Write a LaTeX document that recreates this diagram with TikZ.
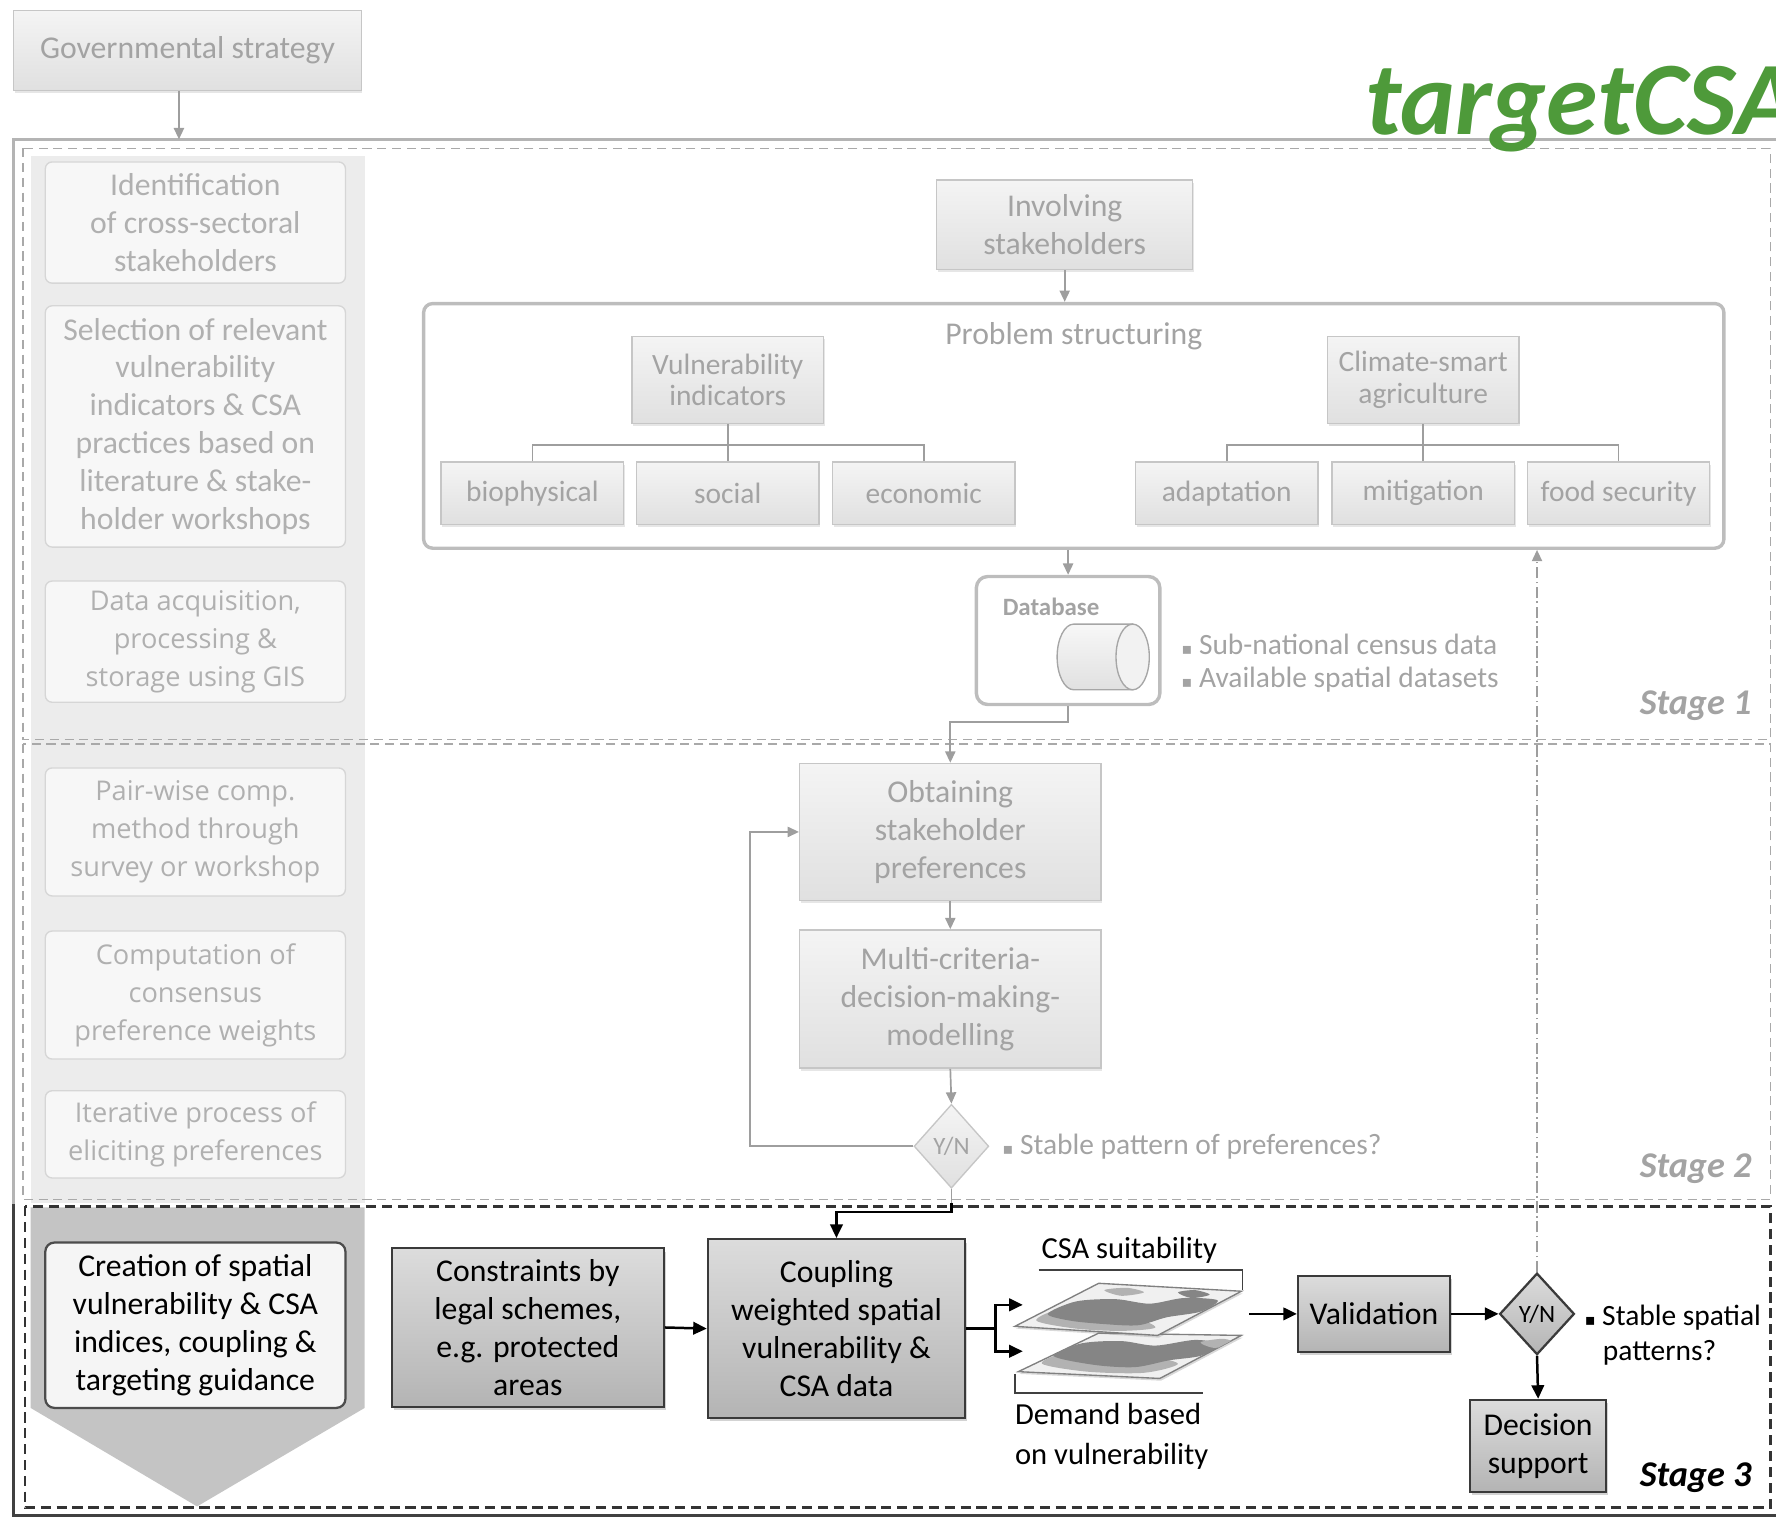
\documentclass[tikz,border=0pt]{standalone}
\usepackage{fontspec}
\setmainfont{Carlito}
\newfontfamily\osans{Open Sans}
\newfontfamily\djv{DejaVu Sans}
\usetikzlibrary{arrows.meta,shapes.geometric,shadows,calc}
\newcommand\fsz[2]{\fontsize{#1}{#2}\selectfont}
\definecolor{gtop}{HTML}{F4F4F4}
\definecolor{gbot}{HTML}{E0E0E0}
\definecolor{bordg}{HTML}{C6C6C6}
\definecolor{txtg}{HTML}{A3A3A3}
\definecolor{lfill}{HTML}{F7F7F7}
\definecolor{lbord}{HTML}{D6D6D6}
\definecolor{ltxt}{HTML}{B0B0B0}
\definecolor{colL}{HTML}{ECECEC}
\definecolor{colD}{HTML}{C4C4C4}
\definecolor{dtop}{HTML}{DCDCDC}
\definecolor{dbot}{HTML}{B4B4B4}
\definecolor{dbord}{HTML}{3A3A3A}
\definecolor{arrg}{HTML}{9E9E9E}
\definecolor{dashg}{HTML}{A9A9A9}
\definecolor{psb}{HTML}{BDBDBD}
\definecolor{frameg}{HTML}{B4B4B4}
\definecolor{tgreen}{HTML}{4E9A3A}
\tikzset{
  gbox/.style={draw=bordg, line width=1.2pt, top color=gtop, bottom color=gbot, text=txtg,
    align=center, inner sep=0pt, font=\fsz{28}{33.5},
    drop shadow={opacity=0.2, shadow xshift=1pt, shadow yshift=-2.5pt}},
  ibox/.style={gbox, font=\fsz{26}{28}},
  lbox/.style={draw=lbord, line width=1.2pt, fill=lfill, rounded corners=6pt, text=ltxt,
    align=center, inner sep=0pt, minimum width=265pt, font=\fsz{28}{33.5}},
  obox/.style={lbox, font=\osans\fsz{24}{33.5}},
  dbox/.style={draw=dbord, line width=2pt, top color=dtop, bottom color=dbot, text=black,
    align=center, inner sep=0pt, font=\fsz{28}{33.5},
    drop shadow={opacity=0.35, shadow xshift=2pt, shadow yshift=-3pt}},
  garr/.style={draw=arrg, line width=1.5pt, -{Triangle[length=10pt,width=9pt]}},
  gline/.style={draw=arrg, line width=1.5pt},
  barr/.style={draw=black, line width=2.2pt, -{Triangle[length=12pt,width=11pt]}},
  bline/.style={draw=black, line width=2.2pt},
  gdash/.style={draw=dashg, line width=1.5pt, dash pattern=on 8pt off 5pt},
  note/.style={inner sep=0pt, anchor=west, text=txtg, font=\fsz{26}{30}},
  stagelbl/.style={inner sep=0pt, font=\bfseries\itshape\fsz{32}{32}},
  mapl/.style={fill=white!94!black, draw=black!50, line width=1.2pt,
    drop shadow={opacity=0.3, shadow xshift=1pt, shadow yshift=-2pt}},
  blob/.style={fill=black!48},
  blobl/.style={fill=black!30},
}
\begin{document}
\begin{tikzpicture}[x=1pt,y=-1pt]
\useasboundingbox (0,0) rectangle (1568,1340.2);
% left process column
\fill[colL] (27,138) rectangle (322,1062);
\fill[colD] (27,1066) -- (322,1066) -- (322,1243) -- (174,1330) -- (27,1243) -- cycle;
% outer frame
\draw[line width=3pt, draw=frameg] (12,1063) -- (12,123) -- (1580,123);
\draw[line width=2.5pt, draw=black!75] (12,1063) -- (12,1338) -- (1580,1338);
% stage frames
\draw[gdash] (20,131) rectangle (1563,653);
\draw[gdash] (20,657) rectangle (1563,1059);
\draw[draw=black!80, line width=2.5pt, dash pattern=on 9pt off 5pt] (22,1065) rectangle (1563,1331);

% title
\node[anchor=base west, inner sep=0pt, text=tgreen, font=\bfseries\itshape\fsz{92}{92}] (title) at (1205,119) {targetCSA};

% governmental strategy
\node[gbox, minimum width=307pt, minimum height=71pt] (gov) at (165.5,44.5) {Governmental strategy};
\coordinate (ft) at (158,123);
\draw[garr] (gov.south -| ft) -- (ft);

% left column boxes
\node[lbox, minimum height=107pt] (l1) at (172.5,196.5) {Identification\\of cross-sectoral\\stakeholders};
\node[lbox, minimum height=213pt] (l2) at (172.5,376.5) {Selection of relevant\\vulnerability\\indicators \& CSA\\practices based on\\literature \& stake-\\holder workshops};
\node[obox, minimum height=107pt] (l3) at (172.5,566.5) {Data acquisition,\\processing \&\\storage using GIS};
\node[obox, minimum height=113pt] (l4) at (172.5,734.5) {Pair-wise comp.\\method through\\survey or workshop};
\node[obox, minimum height=113pt] (l5) at (172.5,878.5) {Computation of\\consensus\\preference weights};
\node[obox, minimum height=77pt] (l6) at (172.5,1001.5) {Iterative process of\\eliciting preferences};
\node[lbox, draw=black!70, line width=2pt, rounded corners=8pt, fill=white!96!black, text=black, minimum height=146pt] (l7) at (172.5,1170) {Creation of spatial\\vulnerability \& CSA\\indices, coupling \&\\targeting guidance};

% stage 1
\node[gbox, minimum width=226pt, minimum height=79pt] (inv) at (940,198.5) {Involving\\stakeholders};
\node[draw=psb, line width=3pt, rounded corners=8pt, minimum width=1148pt, minimum height=216pt, inner sep=0pt] (ps) at (948,376) {};
\node[inner sep=0pt, text=txtg, font=\fsz{28}{30}] (pst) at (948,297) {Problem structuring};
\node[ibox, minimum width=169pt, minimum height=77pt] (vul) at (642.5,335.5) {Vulnerability\\indicators};
\node[ibox, minimum width=169pt, minimum height=77pt] (csa) at (1256.5,335.5) {Climate-smart\\agriculture};
\node[ibox, minimum width=161pt, minimum height=55pt] (bio) at (470,435.5) {biophysical};
\node[ibox, minimum width=161pt, minimum height=55pt] (soc) at (642.5,435.5) {social};
\node[ibox, minimum width=161pt, minimum height=55pt] (eco) at (815.5,435.5) {economic};
\node[ibox, minimum width=161pt, minimum height=55pt] (ada) at (1083,435.5) {adaptation};
\node[ibox, minimum width=161pt, minimum height=55pt] (mit) at (1256.5,435.5) {mitigation};
\node[ibox, minimum width=161pt, minimum height=55pt] (food) at (1429,435.5) {food security};
\draw[gline] (vul.south) -- (soc.north);
\draw[gline] (bio.north) |- ($(vul.south)+(0,18)$) -| (eco.north);
\draw[gline] (csa.south) -- (mit.north);
\draw[gline] (ada.north) |- ($(csa.south)+(0,18)$) -| (food.north);
\draw[garr] (inv.south) -- (ps.north -| inv.south);

% database
\node[draw=psb, line width=3pt, rounded corners=10pt, minimum width=162pt, minimum height=113pt, inner sep=0pt] (db) at (943,565.5) {};
\node[inner sep=0pt, text=txtg, font=\bfseries\fsz{22}{24}] (dbt) at (928,536) {Database};
\filldraw[draw=black!35, line width=1.2pt, top color=white!97!black, bottom color=black!12]
  (1000,551) -- (948,551) arc[start angle=90, end angle=270, x radius=14.7pt, y radius=29pt] -- (1000,609) -- cycle;
\filldraw[draw=black!35, line width=1.2pt, fill=white!95!black] (1000,580) ellipse [x radius=14.7pt, y radius=29pt];
\draw[garr] (ps.south -| db.north) -- (db.north);
\node[note] (n1) at (1043,569) {{\djv\fsz{14}{14}▪} Sub-national census data};
\node[note] (n2) at (1043,600) {{\djv\fsz{14}{14}▪} Available spatial datasets};
\node[stagelbl, text=txtg] (s1) at (1497,623) {Stage 1};

% stage 2
\node[gbox, minimum width=266pt, minimum height=121pt] (obt) at (839,734.5) {Obtaining\\stakeholder\\preferences};
\node[gbox, minimum width=266pt, minimum height=122pt] (mcd) at (839,882) {Multi-criteria-\\decision-making-\\modelling};
\node[diamond, draw=bordg, line width=1.2pt, top color=gtop, bottom color=gbot, text=txtg, inner sep=0pt,
  minimum width=66pt, minimum height=74pt, font=\fsz{22}{22}] (yn1) at (840,1012) {Y/N};
\draw[garr] (db.south) -- ++(0,14) -| (obt.north);
\draw[garr] (obt.south) -- (mcd.north);
\draw[garr] (mcd.south) -- (yn1.north);
\draw[garr] (yn1.west) -- ++(-144,0) |- (obt.west);
\node[note] (n3) at (885,1012) {{\djv\fsz{14}{14}▪} Stable pattern of preferences?};
\node[stagelbl, text=txtg] (s2) at (1497,1032) {Stage 2};

% stage 3
\node[dbox, minimum width=240pt, minimum height=140pt] (con) at (466,1172) {Constraints by\\legal schemes,\\e.g. protected\\areas};
\node[dbox, minimum width=227pt, minimum height=158pt] (cou) at (738.5,1173) {Coupling\\weighted spatial\\vulnerability \&\\CSA data};
\node[dbox, minimum width=134pt, minimum height=67pt] (val) at (1213,1160) {Validation};
\node[diamond, draw=dbord, line width=2pt, top color=dtop, bottom color=dbot, text=black, inner sep=0pt,
  minimum width=66pt, minimum height=72pt, font=\fsz{22}{22}] (yn2) at (1357,1160) {Y/N};
\node[dbox, minimum width=120pt, minimum height=81pt] (dec) at (1358,1276.5) {Decision\\support};
\coordinate (j1) at (840,1062);
\draw[gline] (yn1.south) -- (j1);
\draw[barr] (j1) -- ++(0,8) -| (cou.north);
\draw[barr] (con.east) -- (cou.west);

% map layers
\draw[mapl] (899,1211) -- (970,1177) -- (1096,1179) -- (1024,1217) -- cycle;
\begin{scope}
\clip (899,1211) -- (970,1177) -- (1096,1179) -- (1024,1217) -- cycle;
\fill[blobl] plot[smooth cycle] coordinates {(920,1204) (940,1194) (975,1190) (1010,1196) (1040,1204) (1010,1212) (960,1211)};
\fill[blob] plot[smooth cycle] coordinates {(930,1197) (955,1186) (990,1184) (1020,1188) (1055,1183) (1078,1187) (1060,1197) (1032,1201) (1002,1207) (966,1205)};
\fill[blobl] plot[smooth cycle] coordinates {(1060,1185) (1080,1182) (1090,1186) (1072,1190)};
\end{scope}
\draw[mapl] (896,1171) -- (970,1133) -- (1096,1140) -- (1022,1179) -- cycle;
\begin{scope}
\clip (896,1171) -- (970,1133) -- (1096,1140) -- (1022,1179) -- cycle;
\fill[blobl] plot[smooth cycle] coordinates {(915,1166) (935,1156) (970,1155) (1000,1162) (1020,1172) (990,1175) (950,1173)};
\fill[blob] plot[smooth cycle] coordinates {(925,1160) (950,1149) (985,1147) (1015,1151) (1045,1146) (1075,1148) (1060,1158) (1030,1163) (1005,1170) (975,1169) (945,1166)};
\fill[blob] plot[smooth cycle] coordinates {(1040,1141) (1055,1139) (1068,1143) (1052,1146)};
\fill[blobl] plot[smooth cycle] coordinates {(975,1139) (995,1137) (1010,1141) (990,1144)};
\end{scope}
\draw[draw=black!75, line width=1.5pt] (917,1121) -- (1097,1121) -- (1097,1139);
\draw[draw=black!75, line width=1.5pt] (896,1213) -- (896,1230) -- (1062,1230);
\node[inner sep=0pt, font=\fsz{27}{30}] (csat) at (997,1104) {CSA suitability};
\node[inner sep=0pt, anchor=west, align=left, font=\fsz{27}{35}] (demt) at (896,1268) {Demand based\\on vulnerability};
\coordinate (m1) at (903,1152);
\coordinate (m2) at (903,1193);
\coordinate (mo) at (1103,1160);
\draw[bline] (cou.east) -- ++(26,0) coordinate (br);
\draw[barr] (br) |- (m1);
\draw[barr] (br) |- (m2);
\draw[barr] (mo) -- (val.west);
\draw[barr] (val.east) -- (yn2.west);
\draw[barr] (yn2.south) -- (dec.north);
\draw[draw=arrg, line width=1.5pt, dash pattern=on 10pt off 3pt on 1.5pt off 3pt, -{Triangle[length=10pt,width=9pt]}]
  (yn2.north) -- (ps.south -| yn2.north);
\node[inner sep=0pt, anchor=west, font=\fsz{26}{30}] (n4) at (1399,1163) {{\djv\fsz{14}{14}▪} Stable spatial};
\node[inner sep=0pt, anchor=west, font=\fsz{26}{30}] (n5) at (1415,1194) {patterns?};
\node[stagelbl, text=black] (s3) at (1497,1305) {Stage 3};
\end{tikzpicture}
\end{document}
